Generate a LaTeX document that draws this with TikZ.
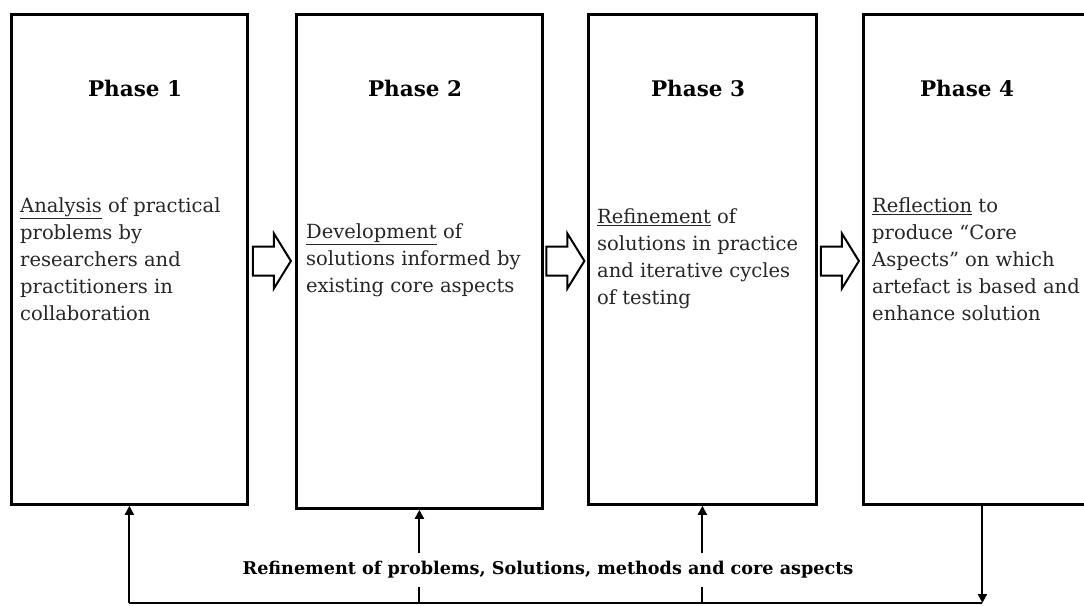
\documentclass[tikz,border=0pt]{standalone}
\usepackage{fontspec}
\setmainfont{DejaVu Serif}
\usetikzlibrary{arrows.meta,calc}

\tikzset{
  phasebox/.style={draw=black, line width=2.8pt, fill=white, inner sep=0pt, anchor=north west},
  heading/.style={font=\fontsize{21.5}{27}\selectfont\bfseries, text=black, inner sep=0pt},
  bodytext/.style={font=\fontsize{19.5}{27}\selectfont, text=black!85, align=left, anchor=west, inner sep=0pt},
  hollowarrow/.pic={
    \draw[line width=2pt, line join=miter, fill=white]
      (-19,-14.5) -- (2,-14.5) -- (2,-27.5) -- (19,0) -- (2,27.5) -- (2,14.5) -- (-19,14.5) -- cycle;
  },
  fb/.style={draw=black, line width=2pt},
  fbtip/.style={fb, -{Triangle[length=9pt,width=9pt]}},
  fblabel/.style={font=\fontsize{17.6}{27}\selectfont\bfseries, fill=white, inner xsep=3pt, inner ysep=8pt}
}

\begin{document}
\begin{tikzpicture}[x=1pt, y=-1pt]
  \clip (0,0) rectangle (1084,605);
  \fill[white] (0,0) rectangle (1084,605);

  % the four phase boxes (the last one runs off the right edge)
  \node[phasebox, minimum width=236pt, minimum height=490pt] (p1) at (10,13) {};
  \node[phasebox, minimum width=246pt, minimum height=494pt] (p2) at (295,13) {};
  \node[phasebox, minimum width=228pt, minimum height=490pt] (p3) at (587,13) {};
  \node[phasebox, minimum width=238pt, minimum height=490pt] (p4) at (862,13) {};

  % headings
  \node[heading] (h1) at (135,88) {Phase 1};
  \node[heading] (h2) at (415,88) {Phase 2};
  \node[heading] (h3) at (698,88) {Phase 3};
  \node[heading] (h4) at (967,88) {Phase 4};

  % descriptions
  \node[bodytext] (d1) at (20,259) {\underline{Analysis} of practical\\problems by\\researchers and\\practitioners in\\collaboration};
  \node[bodytext] (d2) at (306,260) {\underline{Development} of\\solutions informed by\\existing core aspects};
  \node[bodytext] (d3) at (597,259) {\underline{Refinement} of\\solutions in practice\\and iterative cycles\\of testing};
  \node[bodytext] (d4) at (872,259) {\underline{Reflection} to\\produce “Core\\Aspects” on which\\artefact is based and\\enhance solution};

  % hollow arrows between the phases
  \coordinate (a12) at ($(p1.east)!0.5!(p2.west) + (0,0)$);
  \coordinate (a23) at ($(p2.east)!0.5!(p3.west)$);
  \coordinate (a34) at ($(p3.east)!0.5!(p4.west)$);
  \path (a12 |- 0,261) pic {hollowarrow};
  \path (a23 |- 0,261) pic {hollowarrow};
  \path (a34 |- 0,261) pic {hollowarrow};

  % feedback loop along the bottom
  \coordinate (base) at (0,603);
  \coordinate (c1) at (p1.south |- base);
  \coordinate (c2) at (p2.south |- base);
  \coordinate (c3) at (p3.south |- base);
  \coordinate (c4) at (p4.south |- base);
  \draw[fbtip] (p4.south) -- (c4);
  \draw[fb] (c4) -- (c1);
  \draw[fbtip] (c1) -- (p1.south);
  \draw[fbtip] (c2) -- (p2.south);
  \draw[fbtip] (c3) -- (p3.south);

  \node[fblabel] (fbl) at (548,570) {Refinement of problems, Solutions, methods and core aspects};
\end{tikzpicture}
\end{document}
